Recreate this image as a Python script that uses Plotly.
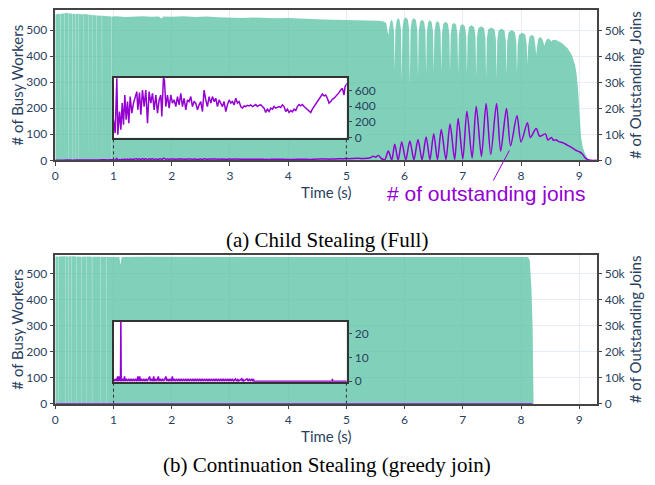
import plotly.graph_objects as go

# ---------------- data ----------------
# (a) Child Stealing: busy workers over time (t [s], workers)
BUSY_A = [
    (0.000, 558), (0.030, 562), (0.089, 563), (0.090, 0), (0.093, 0), (0.094, 563),
    (0.149, 564), (0.150, 0), (0.153, 0), (0.154, 564), (0.190, 566),
    (0.229, 565), (0.230, 0), (0.233, 0), (0.234, 565),
    (0.289, 563), (0.290, 0), (0.293, 0), (0.294, 563),
    (0.339, 562), (0.340, 0), (0.343, 0), (0.344, 562),
    (0.399, 563), (0.400, 0), (0.403, 0), (0.404, 563), (0.450, 560),
    (0.489, 562), (0.490, 0), (0.493, 0), (0.494, 562),
    (0.569, 560), (0.570, 0), (0.573, 0), (0.574, 560),
    (0.629, 558), (0.630, 0), (0.633, 0), (0.634, 558),
    (0.709, 556), (0.710, 0), (0.713, 0), (0.714, 556),
    (0.799, 555), (0.800, 0), (0.803, 0), (0.804, 555), (0.900, 553),
    (0.969, 552), (0.970, 0), (0.973, 0), (0.974, 552),
    (1.05, 553), (1.20, 550), (1.35, 552), (1.50, 553), (1.65, 551), (1.78, 552),
    (1.82, 544), (1.86, 552), (2.00, 551), (2.20, 553), (2.40, 550), (2.60, 552),
    (2.80, 549), (3.00, 548), (3.20, 546), (3.40, 548), (3.60, 546), (3.80, 545),
    (4.00, 546), (4.20, 543), (4.40, 542), (4.60, 541), (4.80, 540), (5.00, 540),
    (5.20, 538), (5.40, 537), (5.55, 536), (5.64, 533),
    (5.685, 527), (5.708, 495), (5.720, 480), (5.732, 500), (5.755, 532), (5.775, 540),
    (5.795, 532), (5.818, 495), (5.830, 345), (5.842, 501), (5.865, 538), (5.890, 546),
    (5.915, 538), (5.938, 501), (5.950, 305), (5.962, 504), (5.985, 541), (6.020, 549),
    (6.055, 541), (6.078, 504), (6.090, 290), (6.102, 501), (6.125, 538), (6.160, 546),
    (6.195, 538), (6.218, 501), (6.230, 320), (6.242, 495), (6.265, 532), (6.300, 540),
    (6.335, 532), (6.358, 495), (6.370, 335), (6.382, 493), (6.405, 530), (6.435, 538),
    (6.465, 530), (6.488, 493), (6.500, 340), (6.512, 490), (6.535, 527), (6.565, 535),
    (6.595, 527), (6.618, 490), (6.630, 340), (6.642, 487), (6.665, 524), (6.705, 532),
    (6.745, 524), (6.768, 487), (6.780, 340), (6.792, 483), (6.815, 520), (6.850, 528),
    (6.885, 520), (6.908, 483), (6.920, 335), (6.932, 478), (6.955, 515), (6.995, 523),
    (7.035, 515), (7.058, 478), (7.070, 330), (7.082, 474), (7.105, 511), (7.150, 519),
    (7.195, 511), (7.218, 474), (7.230, 320), (7.242, 470), (7.265, 507), (7.315, 515),
    (7.365, 507), (7.388, 470), (7.400, 315), (7.412, 465), (7.435, 502), (7.490, 510),
    (7.545, 502), (7.568, 465), (7.580, 315), (7.592, 461), (7.615, 498), (7.665, 506),
    (7.715, 498), (7.738, 461), (7.750, 327), (7.762, 455), (7.785, 492), (7.840, 500),
    (7.895, 492), (7.918, 455), (7.930, 334), (7.942, 445), (7.965, 482), (8.020, 490),
    (8.075, 482), (8.098, 445), (8.110, 370), (8.122, 437), (8.145, 474), (8.185, 482),
    (8.225, 474), (8.248, 437), (8.260, 404), (8.272, 429), (8.295, 466), (8.330, 474),
    (8.365, 466), (8.388, 450), (8.400, 440), (8.412, 448), (8.435, 462), (8.460, 468),
    (8.500, 463), (8.520, 455), (8.540, 462), (8.600, 462), (8.700, 450), (8.800, 430),
    (8.870, 405), (8.930, 365), (8.960, 320), (8.980, 270), (9.000, 175), (9.030, 90),
    (9.060, 50), (9.100, 25), (9.150, 6), (9.200, 0),
]
# (a) outstanding joins (t [s], joins)
JOINS_A = [
    (0.00, 0), (0.10, 40), (0.20, 90), (0.30, 60), (0.40, 130), (0.50, 80),
    (0.60, 160), (0.70, 110), (0.80, 200), (0.90, 150), (0.97, 240),
    (1.000, 226), (1.029, 55), (1.057, 760), (1.074, 34), (1.103, 332), (1.126, 98),
    (1.149, 440), (1.171, 162), (1.194, 545), (1.217, 226), (1.240, 460), (1.263, 183),
    (1.286, 524), (1.314, 311), (1.343, 440), (1.371, 524), (1.400, 588), (1.417, 354),
    (1.446, 575), (1.469, 290), (1.497, 609), (1.526, 396), (1.554, 609), (1.583, 183),
    (1.611, 588), (1.640, 440), (1.669, 567), (1.697, 354), (1.726, 545), (1.754, 311),
    (1.783, 481), (1.811, 545), (1.829, 268), (1.857, 770), (1.874, 737), (1.897, 396),
    (1.926, 545), (1.954, 375), (1.983, 545), (2.011, 440), (2.040, 481), (2.069, 396),
    (2.097, 524), (2.126, 418), (2.154, 567), (2.183, 396), (2.211, 503), (2.240, 354),
    (2.269, 481), (2.297, 460), (2.326, 524), (2.354, 396), (2.383, 460), (2.411, 440),
    (2.440, 354), (2.469, 418), (2.497, 460), (2.526, 332), (2.554, 609), (2.583, 481),
    (2.611, 396), (2.640, 524), (2.669, 440), (2.697, 524), (2.726, 460), (2.754, 503),
    (2.783, 396), (2.811, 481), (2.840, 440), (2.869, 396), (2.897, 460), (2.926, 332),
    (2.954, 418), (2.983, 481), (3.011, 440), (3.040, 460), (3.069, 418), (3.097, 503),
    (3.126, 440), (3.154, 460), (3.183, 396), (3.211, 375), (3.240, 405), (3.269, 396),
    (3.297, 413), (3.326, 405), (3.354, 418), (3.383, 396), (3.411, 409), (3.440, 422),
    (3.469, 396), (3.497, 413), (3.526, 418), (3.554, 396), (3.583, 375), (3.611, 320),
    (3.640, 362), (3.669, 332), (3.697, 375), (3.726, 362), (3.754, 396), (3.783, 375),
    (3.811, 388), (3.840, 396), (3.869, 384), (3.897, 418), (3.926, 396), (3.954, 332),
    (3.983, 362), (4.011, 320), (4.040, 345), (4.069, 328), (4.097, 362), (4.126, 345),
    (4.154, 396), (4.183, 422), (4.211, 405), (4.240, 422), (4.269, 396), (4.297, 375),
    (4.326, 362), (4.354, 345), (4.383, 320), (4.411, 362), (4.440, 396), (4.469, 440),
    (4.497, 460), (4.526, 503), (4.554, 524), (4.583, 558), (4.611, 533), (4.640, 545),
    (4.669, 503), (4.697, 440), (4.726, 460), (4.754, 490), (4.783, 503), (4.811, 524),
    (4.840, 558), (4.869, 575), (4.897, 609), (4.926, 630), (4.954, 545), (4.971, 652),
    (5.000, 686),
    (5.05, 640), (5.10, 700), (5.20, 760), (5.30, 700), (5.40, 900), (5.46, 1600),
    (5.50, 1200), (5.55, 1900), (5.60, 700), (5.66, 300),
    (5.72, 3600), (5.78, 100), (5.83, 6200), (5.89, 100), (5.95, 7100), (6.02, 150),
    (6.09, 7500), (6.16, 200), (6.23, 8000), (6.30, 200), (6.37, 9000), (6.435, 200),
    (6.50, 10300), (6.565, 250), (6.63, 11900), (6.71, 300), (6.78, 14000), (6.86, 300),
    (6.92, 16200), (7.00, 500), (7.07, 19000), (7.16, 900), (7.23, 20900), (7.32, 1500),
    (7.40, 22000), (7.48, 2300), (7.58, 22000), (7.65, 3600), (7.75, 20000), (7.82, 5600),
    (7.93, 17200), (8.00, 7100), (8.11, 14500), (8.16, 8800), (8.26, 12300), (8.32, 9300),
    (8.42, 10200), (8.46, 7800), (8.52, 8800), (8.56, 7700), (8.60, 7900), (8.65, 7200),
    (8.72, 6800), (8.80, 5800), (8.88, 4800), (8.95, 3800), (9.00, 3300), (9.05, 2500),
    (9.10, 1000), (9.14, 300), (9.20, 0), (9.30, 0),
]
# (b) Continuation Stealing: busy workers (t [s], workers)
BUSY_B = [
    (0.000, 566), (0.049, 567), (0.050, 0), (0.053, 0), (0.054, 567),
    (0.169, 568), (0.170, 0), (0.173, 0), (0.174, 568),
    (0.219, 567), (0.220, 0), (0.223, 0), (0.224, 567),
    (0.279, 568), (0.280, 0), (0.283, 0), (0.284, 568),
    (0.359, 567), (0.360, 0), (0.363, 0), (0.364, 567),
    (0.449, 566), (0.450, 0), (0.453, 0), (0.454, 566),
    (0.539, 567), (0.540, 0), (0.543, 0), (0.544, 567),
    (0.629, 566), (0.630, 0), (0.633, 0), (0.634, 566),
    (0.769, 566), (0.770, 0), (0.773, 0), (0.774, 566),
    (0.879, 565), (0.880, 0), (0.883, 0), (0.884, 565),
    (1.00, 565), (1.10, 565), (1.12, 535), (1.14, 565), (1.50, 566), (2.00, 566),
    (2.50, 567), (3.00, 566), (3.50, 567), (4.00, 567), (4.50, 566), (5.00, 567),
    (5.50, 567), (6.00, 567), (6.50, 566), (7.00, 567), (7.50, 566), (8.00, 566),
    (8.12, 565), (8.15, 553), (8.18, 438), (8.20, 280), (8.21, 60), (8.215, 0),
]
# (b) outstanding joins (t [s], joins)
JOINS_B = [
    (0.00, 0), (0.20, 0), (0.21, 1), (0.22, 0), (0.50, 0), (0.51, 1), (0.52, 0), (0.98, 0),
    (1.00, 1), (1.02, 0), (1.04, 1), (1.06, 0), (1.07, 2), (1.08, 0), (1.09, 1), (1.10, 2),
    (1.11, 0), (1.12, 1), (1.126, 27), (1.132, 0), (1.15, 1), (1.17, 0), (1.19, 2), (1.20, 0),
    (1.22, 1), (1.24, 0), (1.26, 1), (1.28, 0), (1.30, 1), (1.32, 0), (1.34, 1), (1.36, 0),
    (1.38, 1), (1.40, 0), (1.42, 2), (1.43, 0), (1.45, 2), (1.46, 0), (1.48, 1), (1.50, 0),
    (1.52, 1), (1.54, 0), (1.56, 1), (1.58, 0), (1.60, 1), (1.62, 2), (1.63, 0), (1.65, 1),
    (1.67, 0), (1.69, 2), (1.70, 0), (1.72, 1), (1.74, 0), (1.77, 2), (1.78, 0), (1.80, 1),
    (1.82, 0), (1.84, 1), (1.86, 0), (1.89, 2), (1.90, 2), (1.91, 0), (1.93, 1), (1.95, 0),
    (1.97, 1), (1.99, 0), (2.01, 2), (2.02, 0), (2.04, 1), (2.06, 0), (2.08, 1), (2.10, 0),
    (2.12, 1), (2.14, 0), (2.16, 1), (2.18, 0), (2.20, 1), (2.22, 0), (2.24, 1), (2.26, 0),
    (2.28, 1), (2.30, 0), (2.32, 1), (2.34, 0), (2.36, 1), (2.38, 0), (2.40, 1), (2.42, 0),
    (2.44, 1), (2.46, 0), (2.48, 1), (2.50, 0), (2.52, 1), (2.54, 0), (2.56, 1), (2.58, 0),
    (2.60, 1), (2.62, 0), (2.64, 1), (2.66, 0), (2.68, 1), (2.70, 0), (2.72, 1), (2.74, 0),
    (2.76, 1), (2.78, 0), (2.80, 1), (2.82, 0), (2.84, 1), (2.86, 0), (2.88, 1), (2.90, 0),
    (2.92, 1), (2.94, 0), (2.96, 1), (2.98, 0), (3.00, 1), (3.02, 0), (3.04, 1), (3.06, 0),
    (3.09, 1), (3.11, 0), (3.13, 1), (3.14, 0), (3.20, 1), (3.21, 0), (3.22, 1), (3.23, 0),
    (3.29, 1), (3.31, 0), (3.33, 1), (3.35, 0), (3.37, 1), (3.39, 0), (3.40, 1), (3.41, 0),
    (4.75, 0), (4.755, 1), (4.76, 0), (8.20, 0),
]

X_TICKS = [0, 1, 2, 3, 4, 5, 6, 7, 8, 9]
LEFT_TICKS = [0, 100, 200, 300, 400, 500]
RIGHT_TICKS = [0, 10000, 20000, 30000, 40000, 50000]
RIGHT_LABELS = ["0", "10k", "20k", "30k", "40k", "50k"]
INSET_A_TICKS = [0, 200, 400, 600]
INSET_B_TICKS = [0, 10, 20]
INSET_X = [1, 5]
CAPTION_A = "(a) Child Stealing (Full)"
CAPTION_B = "(b) Continuation Stealing (greedy join)"
JOINS_LABEL = "# of outstanding joins"

# ---------------- style ----------------
TEAL = "rgba(80,190,160,0.72)"
PURPLE = "#9400D3"
INK = "#2a3f5f"
GRID = "#E5ECF6"
FRAME = "#444444"
FONT = "Lato"

W, H = 655, 485
OFF = 8  # page body margin: figure origin sits 8 px into the screenshot


def px_x(p):
    return (p - OFF) / W


def px_y(p):
    return 1 - (p - OFF) / H


XDOM = [px_x(55.3), px_x(597.3)]
YDOM_A = [px_y(160.3), px_y(10)]
YDOM_B = [px_y(403.7), px_y(255)]
IXDOM = [px_x(113.5), px_x(346.7)]
IYDOM_A = [px_y(137.7), px_y(77.5)]
IYDOM_B = [px_y(381.7), px_y(321.7)]
XR = [0, 9.31]
YR_A, Y2R_A = [0, 577], [0, 58100]
YR_B, Y2R_B = [0, 573], [0, 57300]
IYR_A, IYR_B = [-5, 770], [-0.2, 25]


def unzip(pairs):
    return [p[0] for p in pairs], [p[1] for p in pairs]


fig = go.Figure()

bat, bav = unzip(BUSY_A)
jat, jav = unzip(JOINS_A)
bbt, bbv = unzip(BUSY_B)
jbt, jbv = unzip(JOINS_B)

area = dict(mode="lines", line=dict(width=0, color=TEAL), fill="tozeroy",
            fillcolor=TEAL, hoverinfo="skip", showlegend=False)
pline = dict(mode="lines", line=dict(width=1.5, color=PURPLE), hoverinfo="skip",
             showlegend=False)
psmooth = dict(mode="lines", line=dict(width=1.5, color=PURPLE, shape="spline",
                                       smoothing=0.8),
               hoverinfo="skip", showlegend=False)

fig.add_trace(go.Scatter(x=bat, y=bav, xaxis="x", yaxis="y", **area))
fig.add_trace(go.Scatter(x=jat, y=jav, xaxis="x", yaxis="y2", **psmooth))
fig.add_trace(go.Scatter(x=jat, y=jav, xaxis="x3", yaxis="y5", **pline))
fig.add_trace(go.Scatter(x=bbt, y=bbv, xaxis="x2", yaxis="y3", **area))
fig.add_trace(go.Scatter(x=jbt, y=jbv, xaxis="x2", yaxis="y4", **pline))
fig.add_trace(go.Scatter(x=jbt, y=jbv, xaxis="x4", yaxis="y6", **pline))

tickfont = dict(family=FONT, size=12, color=INK)
titlefont = dict(family=FONT, size=15, color=INK)


def main_x(anchor):
    return dict(domain=XDOM, range=XR, anchor=anchor, tickvals=X_TICKS,
                showgrid=True, gridcolor=GRID, gridwidth=1, zeroline=False,
                showline=True, mirror=True, linecolor=FRAME, linewidth=1.5,
                ticks="outside", ticklen=4, tickcolor=FRAME, tickfont=tickfont,
                title=dict(text="Time (s)", font=titlefont, standoff=5),
                layer="below traces")


def main_y(dom, rng, anchor):
    return dict(domain=dom, range=rng, anchor=anchor, tickvals=LEFT_TICKS,
                showgrid=True, gridcolor=GRID, gridwidth=1, zeroline=False,
                showline=True, mirror=True, linecolor=FRAME, linewidth=1.5,
                ticks="outside", ticklen=4, tickcolor=FRAME, tickfont=tickfont,
                title=dict(text="# of Busy Workers", font=titlefont, standoff=9))


def right_y(over, rng, anchor):
    return dict(overlaying=over, side="right", range=rng, anchor=anchor,
                tickvals=RIGHT_TICKS, ticktext=RIGHT_LABELS, showgrid=False,
                zeroline=False, showline=False, ticks="outside", ticklen=4,
                tickcolor=FRAME, tickfont=tickfont,
                title=dict(text="# of Outstanding Joins", font=titlefont, standoff=4))


def inset_x(anchor):
    return dict(domain=IXDOM, range=INSET_X, anchor=anchor, showticklabels=False,
                ticks="", showgrid=False, zeroline=False, showline=True,
                mirror=True, linecolor="#333333", linewidth=1.5)


def inset_y(dom, rng, anchor, ticks):
    return dict(domain=dom, range=rng, anchor=anchor, side="right", tickvals=ticks,
                showgrid=False, zeroline=False, showline=True, mirror=True,
                linecolor="#333333", linewidth=1.5, ticks="outside", ticklen=4,
                tickcolor=FRAME, tickfont=tickfont)


fig.update_layout(
    width=W, height=H, autosize=False, template="none",
    margin=dict(l=0, r=0, t=0, b=0),
    paper_bgcolor="white", plot_bgcolor="white", showlegend=False,
    xaxis=main_x("y"), yaxis=main_y(YDOM_A, YR_A, "x"),
    yaxis2=right_y("y", Y2R_A, "x"),
    xaxis2=main_x("y3"), yaxis3=main_y(YDOM_B, YR_B, "x2"),
    yaxis4=right_y("y3", Y2R_B, "x2"),
    xaxis3=inset_x("y5"), yaxis5=inset_y(IYDOM_A, IYR_A, "x3", INSET_A_TICKS),
    xaxis4=inset_x("y6"), yaxis6=inset_y(IYDOM_B, IYR_B, "x4", INSET_B_TICKS),
)

# inset backgrounds (semi-transparent white panel) and dotted connector lines
shapes = []
for xa, ya, yr in (("x3", "y5", IYR_A), ("x4", "y6", IYR_B)):
    shapes.append(dict(type="rect", xref=xa, yref=ya, x0=INSET_X[0], x1=INSET_X[1],
                       y0=yr[0], y1=yr[1], fillcolor="rgba(255,255,255,0.42)",
                       line=dict(width=0), layer="below"))
for xa, ya, ydom, idom, yr in (("x", "y", YDOM_A, IYDOM_A, YR_A),
                               ("x2", "y3", YDOM_B, IYDOM_B, YR_B)):
    ytop = (idom[0] - ydom[0]) / (ydom[1] - ydom[0]) * yr[1]
    for xv in INSET_X:
        shapes.append(dict(type="line", xref=xa, yref=ya, x0=xv, x1=xv, y0=0, y1=ytop,
                           line=dict(color="#333333", width=1, dash="dot"),
                           layer="above"))
fig.update_layout(shapes=shapes)

fig.add_annotation(text=CAPTION_A, xref="paper", yref="paper", x=px_x(327),
                   y=px_y(240), xanchor="center", yanchor="middle", showarrow=False,
                   font=dict(family="Liberation Serif", size=21, color="black"))
fig.add_annotation(text=CAPTION_B, xref="paper", yref="paper", x=px_x(327),
                   y=px_y(465), xanchor="center", yanchor="middle", showarrow=False,
                   font=dict(family="Liberation Serif", size=21, color="black"))
fig.add_annotation(text=JOINS_LABEL, xref="x", yref="y2", x=7.80, y=3800,
                   showarrow=True, arrowhead=0, arrowwidth=1, arrowcolor=PURPLE,
                   ax=-23, ay=43, font=dict(family="Liberation Sans", size=21,
                                             color=PURPLE))

fig.write_html("out.html")
